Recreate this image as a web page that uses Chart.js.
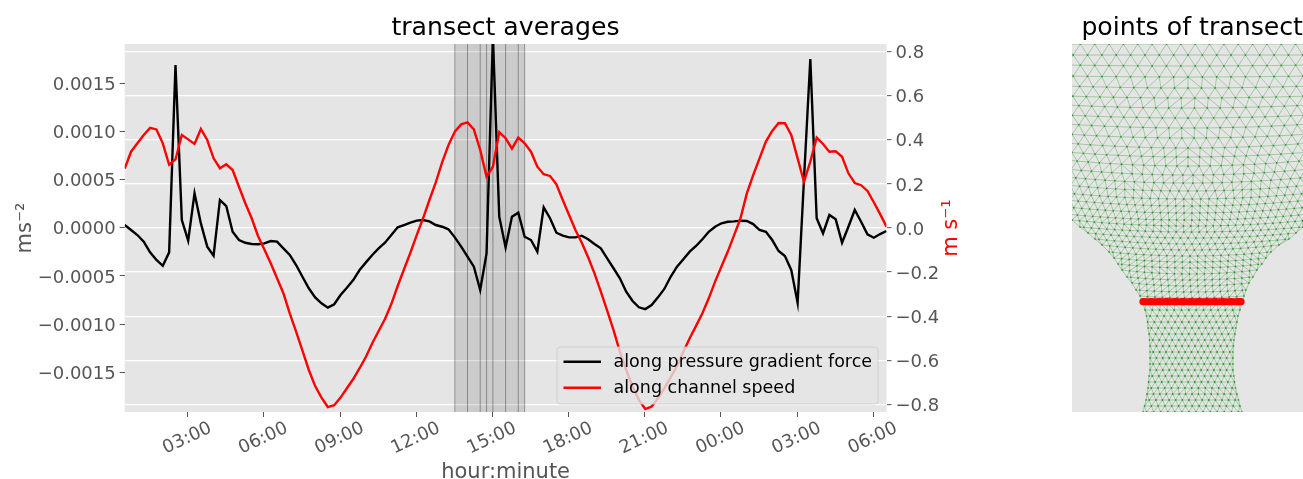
<!DOCTYPE html>
<html><head><meta charset="utf-8">
<script src="https://cdn.jsdelivr.net/npm/chart.js@4"></script>
<style>
html,body{margin:0;padding:0;width:1303px;height:479px;overflow:hidden;background:#fff}
canvas{position:absolute;top:0}
#a{left:0}#b{left:1072px}
</style></head><body>
<canvas id="a" width="1011" height="479"></canvas>
<canvas id="b" width="231" height="479"></canvas>
<script>
const sampleStartHour = 0.52, sampleStepHour = 0.25;
const pressureForce = [
0.000028,-0.000024,-0.000076,-0.000145,-0.000256,-0.000335,-0.000395,-0.000256,0.001689,0.000080,
-0.000135,0.000357,0.000045,-0.000197,-0.000291,0.000288,0.000225,-0.000042,-0.000128,-0.000156,
-0.000169,-0.000172,-0.000162,-0.000138,-0.000145,-0.000214,-0.000283,-0.000387,-0.000509,-0.000629,
-0.000723,-0.000785,-0.000830,-0.000795,-0.000699,-0.000623,-0.000543,-0.000439,-0.000360,-0.000283,
-0.000214,-0.000156,-0.000076,0.000004,0.000028,0.000052,0.000073,0.000080,0.000066,0.000028,
0.000010,-0.000017,-0.000100,-0.000197,-0.000301,-0.000405,-0.000647,-0.000266,0.001990,0.000114,
-0.000204,0.000114,0.000156,-0.000094,-0.000128,-0.000249,0.000212,0.000098,-0.000052,-0.000083,
-0.000100,-0.000100,-0.000083,-0.000120,-0.000169,-0.000214,-0.000318,-0.000421,-0.000525,-0.000664,
-0.000761,-0.000826,-0.000845,-0.000802,-0.000723,-0.000636,-0.000509,-0.000405,-0.000328,-0.000249,
-0.000190,-0.000120,-0.000042,0.000010,0.000046,0.000062,0.000066,0.000073,0.000070,0.000038,
-0.000024,-0.000042,-0.000128,-0.000242,-0.000294,-0.000439,-0.000779,0.000500,0.001751,0.000098,
-0.000058,0.000132,0.000087,-0.000156,0.000010,0.000184,0.000062,-0.000069,-0.000104,-0.000066,-0.000034];
const channelSpeed = [
0.270,0.346,0.384,0.422,0.454,0.447,0.384,0.287,0.311,0.422,
0.402,0.381,0.449,0.399,0.316,0.271,0.289,0.263,0.187,0.112,
0.044,-0.036,-0.097,-0.160,-0.228,-0.296,-0.387,-0.470,-0.556,-0.644,
-0.717,-0.769,-0.812,-0.804,-0.769,-0.727,-0.685,-0.636,-0.584,-0.523,
-0.467,-0.413,-0.345,-0.263,-0.187,-0.112,-0.032,0.044,0.127,0.207,
0.298,0.376,0.437,0.470,0.479,0.447,0.354,0.233,0.278,0.435,
0.407,0.360,0.410,0.384,0.346,0.278,0.244,0.236,0.198,0.127,
0.059,-0.009,-0.067,-0.133,-0.206,-0.289,-0.375,-0.463,-0.561,-0.644,
-0.720,-0.780,-0.821,-0.810,-0.772,-0.727,-0.677,-0.626,-0.561,-0.500,
-0.444,-0.387,-0.319,-0.243,-0.175,-0.107,-0.032,0.044,0.157,0.240,
0.316,0.392,0.440,0.476,0.475,0.422,0.316,0.210,0.301,0.410,
0.381,0.346,0.348,0.323,0.248,0.204,0.194,0.168,0.117,0.063,0.006];
const hourTicks = [3,6,9,12,15,18,21,24,27,30];
const forceTicks = [-0.0015,-0.001,-0.0005,0,0.0005,0.001,0.0015];
const speedTicks = [-0.8,-0.6,-0.4,-0.2,0,0.2,0.4,0.6,0.8];
const markedHours = [13.52,14.02,14.52,14.77,15.02,15.52,16.02,16.27];
const seriesNames = ['along pressure gradient force','along channel speed'];
const seriesColors = ['#000000','#ff0000'];

// transect and mesh rows of the right panel: [row position, left edge, right edge, node count, row bow]
const transectX = [71,79,87,95,103,111,119,127,135,143,151,159,166,169];
const transectY = 257.7;
const meshRows = [
[0,-6,238,18,0],[11,-6,238,18,0],[22,-6,238,18,1],[33,-6,238,18,1],[44,-6,238,19,2],[54,-6,238,19,2],
[64,-6,238,20,3],[74,-6,238,20,3],[84,-6,238,20,4],[94,-6,238,21,4],[104,-6,238,21,5],[113,-6,238,22,5],
[122,-6,238,23,6],[131,-6,238,25,6],[139,-6,238,26,6],[147,-6,238,28,6],[155,-6,238,30,6],[162,-6,238,31,6],
[169,-6,238,32,6],[176,-6,238,33,6],[182,0,238,33,6],[188,8,231,30,5],[194,16,224,28,5],[200,23,217,26,5],
[206,30,207,24,5],[212,37,199,22,4],[218,42,194,21,4],[224,46,190,20,4],[230,50,185,19,4],[236,55,181,18,3],
[242,60,177,17,3],[248,64,174,16,2],[254,68,172,15,2],[260,71,170,15,1],[266,73,168,14,0],[272,74.5,166,14,0],
[278,75.5,165,14,0],[284,76,164,14,0],[290,77,163,14,0],[296,77.5,162,14,0],[302,78,161.5,14,0],[308,78,161,14,0],
[314,78,161,14,0],[320,78,161,14,0],[326,78,161,14,0],[332,77,162,14,0],[338,76.5,162.5,14,0],[344,76,163.5,14,0],
[350,75,165,15,0],[356,74,166.5,15,0],[362,72.5,168,15,0],[368,71,170,15,0]];

const hours = pressureForce.map((_, i) => sampleStartHour + i * sampleStepHour);
const toXY = (xs, ys) => xs.map((x, i) => ({x, y: ys[i]}));
const uminus = s => s.replace('-', '\u2212');
const font = 'DejaVu Sans';
const tickCol = '#555555';
const setTicks = vals => s => { s.ticks = vals.map(value => ({value})); };
Chart.defaults.font.family = font;
Chart.defaults.animation = false;

const decorations = {
  id: 'decorations',
  beforeDraw(c) {
    const a = c.chartArea, g = c.ctx;
    g.save(); g.fillStyle = '#E5E5E5'; g.fillRect(a.left, a.top, a.right - a.left, a.bottom - a.top); g.restore();
  },
  beforeDatasetsDraw(c) {
    const a = c.chartArea, g = c.ctx, x = c.scales.x;
    g.save();
    g.fillStyle = 'rgba(0,0,0,0.115)';
    const l = x.getPixelForValue(markedHours[0]), r = x.getPixelForValue(markedHours[markedHours.length - 1]);
    g.fillRect(l, a.top, r - l, a.bottom - a.top);
    g.strokeStyle = 'rgba(0,0,0,0.33)'; g.lineWidth = 1;
    markedHours.forEach(h => { const p = x.getPixelForValue(h); g.beginPath(); g.moveTo(p, a.top); g.lineTo(p, a.bottom); g.stroke(); });
    g.restore();
  },
  afterDatasetsDraw(c) {
    const g = c.ctx, L = 557, T = 347, W = 321, H = 57;
    g.save();
    g.beginPath(); g.roundRect(L, T, W, H, 3);
    g.fillStyle = 'rgba(229,229,229,0.8)'; g.fill();
    g.strokeStyle = 'rgba(204,204,204,0.8)'; g.lineWidth = 1; g.stroke();
    g.font = '17.5px "DejaVu Sans"'; g.textBaseline = 'middle'; g.textAlign = 'left';
    seriesNames.forEach((n, i) => {
      const y = 361.7 + i * 26;
      g.strokeStyle = seriesColors[i]; g.lineWidth = 2.4;
      g.beginPath(); g.moveTo(563.5, y); g.lineTo(601, y); g.stroke();
      g.fillStyle = '#000'; g.fillText(n, 613.5, y + 0.5);
    });
    g.restore();
  },
  afterDraw(c) {
    const g = c.ctx, x = c.scales.x;
    g.save();
    g.font = '18px "DejaVu Sans"'; g.fillStyle = tickCol; g.textAlign = 'center'; g.textBaseline = 'middle';
    hourTicks.forEach(h => {
      const hh = String(h % 24).padStart(2, '0');
      g.save(); g.translate(x.getPixelForValue(h) - 0.5, 438.5); g.rotate(-25 * Math.PI / 180);
      g.fillText(hh + ':00', 0, 0); g.restore();
    });
    g.translate(952, 228); g.rotate(-Math.PI / 2);
    g.font = '21px "DejaVu Sans"'; g.fillStyle = '#ff0000';
    g.fillText('m s\u207B\u00B9', 0, 0);
    g.restore();
  }
};

new Chart(document.getElementById('a'), {
  type: 'line',
  data: { datasets: [
    { label: seriesNames[1], data: toXY(hours, channelSpeed), yAxisID: 'y2', borderColor: seriesColors[1], borderWidth: 2.4, pointRadius: 0, tension: 0, order: 0 },
    { label: seriesNames[0], data: toXY(hours, pressureForce), yAxisID: 'y', borderColor: seriesColors[0], borderWidth: 2.4, pointRadius: 0, tension: 0, order: 1 }
  ]},
  plugins: [decorations],
  options: {
    responsive: false, animation: false, events: [],
    layout: { autoPadding: false, padding: 0 },
    plugins: {
      legend: { display: false }, tooltip: { enabled: false },
      title: { display: true, text: 'transect averages', color: '#000', font: { size: 25.2, weight: 'normal', lineHeight: 1 }, padding: { top: 16, bottom: 2.8 } }
    },
    scales: {
      x: { type: 'linear', min: sampleStartHour, max: 30.52, afterBuildTicks: setTicks(hourTicks),
        afterFit(s) { s.height = 67; },
        border: { display: false },
        grid: { drawOnChartArea: false, drawTicks: true, tickLength: 5, tickColor: tickCol, tickWidth: 1 },
        ticks: { display: false, autoSkip: false },
        title: { display: true, text: 'hour:minute', color: tickCol, font: { size: 21, weight: 'normal', lineHeight: 0.6 }, padding: 0 } },
      y: { position: 'left', min: -0.001913, max: 0.001907, afterBuildTicks: setTicks(forceTicks),
        afterFit(s) { s.width = 124.7; },
        border: { display: false },
        grid: { drawOnChartArea: false, drawTicks: true, tickLength: 5, tickColor: tickCol, tickWidth: 1 },
        ticks: { autoSkip: false, color: tickCol, font: { size: 18 }, padding: 4, labelOffset: 2, callback: v => uminus(v.toFixed(4)) },
        title: { display: true, text: 'ms\u207B\u00B2', color: tickCol, font: { size: 21, weight: 'normal', lineHeight: 1 }, padding: { top: 15, bottom: 0 } } },
      y2: { position: 'right', min: -0.8345, max: 0.8345, afterBuildTicks: setTicks(speedTicks),
        afterFit(s) { s.width = 124.5; },
        border: { display: false },
        grid: { color: '#ffffff', lineWidth: 1.3, drawTicks: true, tickLength: 5, tickColor: tickCol, tickWidth: 1 },
        ticks: { autoSkip: false, color: tickCol, font: { size: 18 }, padding: 4, labelOffset: 2, callback: v => uminus(v.toFixed(1)) } }
    }
  }
});

// mesh of the right panel: odd rows are staggered half a step, and rows are joined strip by strip
const rowNodes = meshRows.map(([y, l, r, n, bow], k) => {
  const s = (r - l) / (n - 1), mid = (l + r) / 2, half = (r - l) / 2;
  const xs = [];
  if (k % 2 === 0) for (let i = 0; i < n; i++) xs.push(l + i * s);
  else { xs.push(l); for (let i = 0; i < n - 1; i++) xs.push(l + (i + 0.5) * s); xs.push(r); }
  return xs.map(x => ({x, y: y - bow * ((x - mid) / half) ** 2}));
});
const edges = [];
const gap = {x: null, y: null};
rowNodes.forEach((row, k) => {
  row.slice(1).forEach((p, i) => edges.push(row[i], p, gap));
  const next = rowNodes[k + 1];
  if (!next) return;
  let a = 0, b = 0;
  edges.push(row[0], next[0], gap);
  while (a < row.length - 1 || b < next.length - 1) {
    const stepA = a < row.length - 1 ? Math.abs(row[a + 1].x - next[b].x) : Infinity;
    const stepB = b < next.length - 1 ? Math.abs(next[b + 1].x - row[a].x) : Infinity;
    if (stepA <= stepB) a++; else b++;
    edges.push(row[a], next[b], gap);
  }
});

const panelBg = {
  id: 'panelBg',
  beforeDraw(c) { const a = c.chartArea, g = c.ctx; g.save(); g.fillStyle = '#E5E5E5'; g.fillRect(a.left, a.top, a.right - a.left, a.bottom - a.top); g.restore(); }
};
new Chart(document.getElementById('b'), {
  type: 'scatter',
  data: { datasets: [
    { data: transectX.map(x => ({x, y: transectY})), pointRadius: 3.6, pointBackgroundColor: '#ff0000', pointBorderWidth: 0, showLine: true, borderColor: '#ff0000', borderWidth: 7, order: 0 },
    { data: rowNodes.flat(), pointRadius: 0.9, pointBackgroundColor: 'rgba(0,128,0,0.55)', pointBorderWidth: 0, showLine: false, order: 1 },
    { data: edges, showLine: true, spanGaps: false, borderColor: 'rgba(0,128,0,0.33)', borderWidth: 0.9, borderDash: [10000, 0], pointRadius: 0, order: 2 }
  ]},
  plugins: [panelBg],
  options: {
    responsive: false, animation: false, events: [],
    layout: { autoPadding: false, padding: { bottom: 67 } },
    plugins: {
      legend: { display: false }, tooltip: { enabled: false },
      title: { display: true, text: 'points of transect', align: 'end', color: '#000', font: { size: 25.2, weight: 'normal', lineHeight: 1 }, padding: { top: 16, bottom: 2.8 } }
    },
    scales: {
      x: { type: 'linear', display: false, min: 0, max: 231 },
      y: { type: 'linear', display: false, min: 0, max: 368, reverse: true }
    }
  }
});
</script>
</body></html>
